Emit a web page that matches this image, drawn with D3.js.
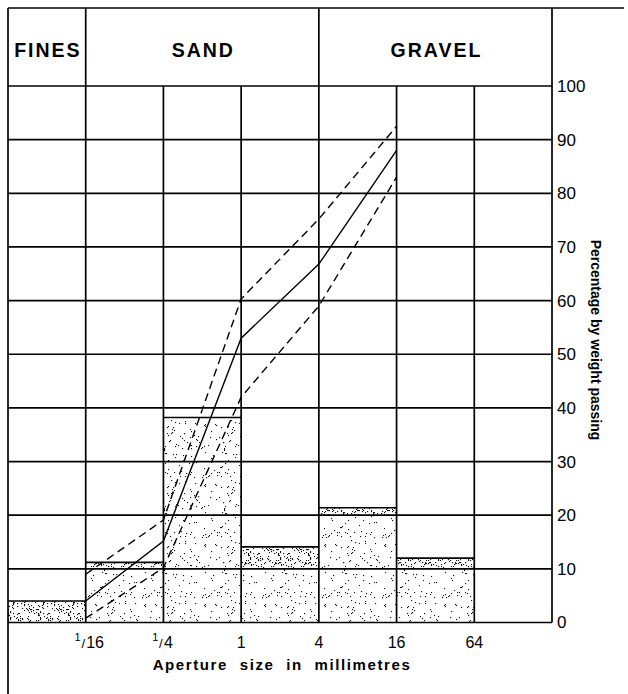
<!DOCTYPE html>
<html>
<head>
<meta charset="utf-8">
<script src="https://cdn.jsdelivr.net/npm/d3@7"></script>
<style>
  html, body { margin: 0; padding: 0; background: #fff; }
  svg { display: block; }
  text { font-family: "Liberation Sans", Arial, Helvetica, sans-serif; fill: #000; }
</style>
</head>
<body>
<svg id="chart" width="628" height="694"></svg>
<script>
// ---------- data ----------
// column edges (aperture sizes in mm) of the grid
const columnEdges = [1/64, 1/16, 1/4, 1, 4, 16, 64, 256];
// x-axis tick positions and labels
const tickSizes = [1/16, 1/4, 1, 4, 16, 64];
const tickNum = ["1", "1", "", "", "", ""];
const tickDen = ["16", "4", "1", "4", "16", "64"];
// y-axis ticks
const yTicks = [0, 10, 20, 30, 40, 50, 60, 70, 80, 90, 100];
// header groups
const groupNames = ["FINES", "SAND", "GRAVEL"];
const groupFrom = [1/64, 1/16, 4];
const groupTo = [1/16, 4, 256];
// histogram: percentage retained in each size class
const binLo = [1/64, 1/16, 1/4, 1, 4, 16];
const binHi = [1/16, 1/4, 1, 4, 16, 64];
const binPct = [4.0, 11.2, 38.2, 14.1, 21.4, 12.0];
// grading curve (cumulative % passing) and envelope limits
const curveSizes = [1/16, 1/4, 1, 4, 16];
const gradingCurve = [4.0, 15.2, 53.0, 66.8, 88.0];
const upperLimit = [9.0, 19.1, 60.3, 75.2, 92.5];
const lowerLimit = [0.8, 10.2, 42.0, 59.0, 83.0];

// ---------- layout ----------
const svg = d3.select("#chart");
const plotLeft = 8, plotRight = 552, frameTop = 8, headerBottom = 86, plotBottom = 622.5;

const x = d3.scaleLog().base(2).domain([1/64, 256]).range([plotLeft, plotRight]);
const y = d3.scaleLinear().domain([0, 100]).range([plotBottom, headerBottom]);

// ---------- stipple patterns (deterministic texture) ----------
const defs = svg.append("defs");
function hash(i, s) {
  let h = (i * 374761393 + s * 668265263) | 0;
  h = Math.imul(h ^ (h >>> 13), 1274126177);
  h = h ^ (h >>> 16);
  return (h >>> 0) / 4294967296;
}
function makePattern(id, n, seed, size) {
  const p = defs.append("pattern").attr("id", id)
    .attr("patternUnits", "userSpaceOnUse")
    .attr("width", size).attr("height", size);
  p.append("rect").attr("width", size).attr("height", size).attr("fill", "#fff");
  const g = p.append("g").attr("fill", "#111");
  for (let i = 0; i < n; i++) {
    g.append("rect")
      .attr("x", Math.floor(hash(i, seed) * size))
      .attr("y", Math.floor(hash(i, seed + 7) * size))
      .attr("width", 1.1).attr("height", 1.1);
  }
}
makePattern("stipLight", 105, 3, 60);
makePattern("stipDense", 110, 11, 30);

// ---------- bars ----------
const bars = svg.append("g");
binPct.forEach((v, i) => {
  bars.append("rect")
    .attr("x", x(binLo[i])).attr("width", x(binHi[i]) - x(binLo[i]))
    .attr("y", y(v)).attr("height", y(0) - y(v))
    .attr("fill", "url(#stipLight)");
  const floorV = Math.floor(v / 10) * 10;
  if (v - floorV <= 5) {
    bars.append("rect")
      .attr("x", x(binLo[i])).attr("width", x(binHi[i]) - x(binLo[i]))
      .attr("y", y(v)).attr("height", y(floorV) - y(v))
      .attr("fill", "url(#stipDense)");
  }
  bars.append("line")
    .attr("x1", x(binLo[i])).attr("x2", x(binHi[i]))
    .attr("y1", y(v)).attr("y2", y(v))
    .attr("stroke", "#000").attr("stroke-width", 1.6);
});

// ---------- grid ----------
const grid = svg.append("g").attr("stroke", "#000").attr("stroke-width", 1.7);
yTicks.forEach(t => {
  grid.append("line").attr("x1", plotLeft).attr("x2", plotRight)
    .attr("y1", y(t)).attr("y2", y(t));
});
columnEdges.slice(1, -1).forEach(s => {
  grid.append("line").attr("x1", x(s)).attr("x2", x(s))
    .attr("y1", headerBottom).attr("y2", plotBottom);
});
// frame
grid.append("line").attr("x1", plotLeft).attr("x2", plotLeft).attr("y1", frameTop).attr("y2", 694);
grid.append("line").attr("x1", plotLeft).attr("x2", 624).attr("y1", frameTop).attr("y2", frameTop);
grid.append("line").attr("x1", plotRight).attr("x2", plotRight).attr("y1", frameTop).attr("y2", plotBottom);
// header dividers
groupFrom.slice(1).forEach(s => {
  grid.append("line").attr("x1", x(s)).attr("x2", x(s)).attr("y1", frameTop).attr("y2", headerBottom);
});

// header labels
groupNames.forEach((name, i) => {
  svg.append("text")
    .attr("x", (x(groupFrom[i]) + x(groupTo[i])) / 2 + 1)
    .attr("y", 57)
    .attr("text-anchor", "middle")
    .attr("font-size", 19.5).attr("font-weight", "bold")
    .attr("letter-spacing", 2)
    .text(name);
});

// ---------- lines ----------
const line = d3.line().x((d, i) => x(curveSizes[i])).y(d => y(d));
svg.append("path").datum(upperLimit).attr("d", line)
  .attr("fill", "none").attr("stroke", "#000").attr("stroke-width", 1.4)
  .attr("stroke-dasharray", "8,5");
svg.append("path").datum(lowerLimit).attr("d", line)
  .attr("fill", "none").attr("stroke", "#000").attr("stroke-width", 1.4)
  .attr("stroke-dasharray", "8,5");
svg.append("path").datum(gradingCurve).attr("d", line)
  .attr("fill", "none").attr("stroke", "#000").attr("stroke-width", 1.4);

// ---------- y axis (right) ----------
const yAxis = d3.axisRight(y).tickValues(yTicks).tickSize(0).tickPadding(5)
  .tickFormat(d3.format("d"));
const ya = svg.append("g").attr("transform", `translate(${plotRight},0)`).call(yAxis);
ya.select(".domain").remove();
ya.selectAll("text").attr("font-size", 17)
  .attr("font-family", "Liberation Sans, Arial, sans-serif").attr("fill", "#000");

svg.append("text")
  .attr("transform", `translate(596, 340) rotate(90)`)
  .attr("text-anchor", "middle").attr("dominant-baseline", "central")
  .attr("font-size", 14).attr("font-weight", "bold")
  .text("Percentage by weight passing");

// ---------- x axis labels ----------
const xl = svg.append("g");
tickSizes.forEach((s, i) => {
  const cx = x(s);
  if (tickNum[i]) {
    // numerator (small, raised)
    xl.append("text").attr("x", cx - 5).attr("y", 641)
      .attr("text-anchor", "end").attr("font-size", 11).text(tickNum[i]);
    // slash
    xl.append("text").attr("x", cx - 2.5).attr("y", 648)
      .attr("text-anchor", "middle").attr("font-size", 13).text("/");
    // denominator
    xl.append("text").attr("x", cx + 0.5).attr("y", 648)
      .attr("text-anchor", "start").attr("font-size", 16).text(tickDen[i]);
  } else {
    xl.append("text").attr("x", cx).attr("y", 648)
      .attr("text-anchor", "middle").attr("font-size", 16).text(tickDen[i]);
  }
});

svg.append("text")
  .attr("x", 282).attr("y", 670)
  .attr("text-anchor", "middle")
  .attr("font-size", 15).attr("font-weight", "bold")
  .attr("letter-spacing", 1.6).attr("word-spacing", 6)
  .text("Aperture size in millimetres");
</script>
</body>
</html>
